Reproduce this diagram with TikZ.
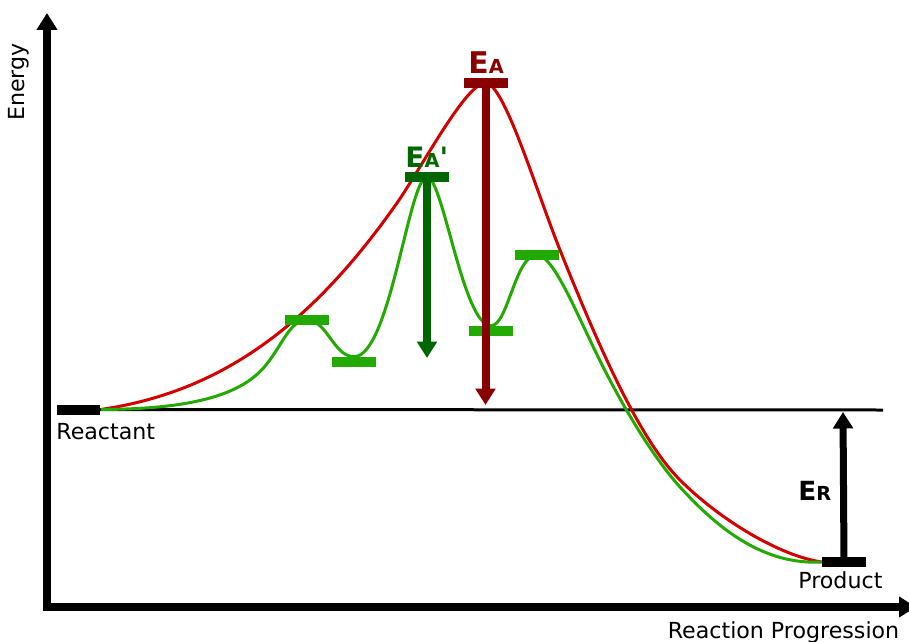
\documentclass[tikz,border=0pt]{standalone}
\usepackage{fontspec}
\setmainfont{DejaVu Sans}
\usetikzlibrary{arrows.meta,backgrounds}
\definecolor{curvered}  {HTML}{D40000}
\definecolor{darkred}   {HTML}{880000}
\definecolor{lightgreen}{HTML}{22AA00}
\definecolor{darkgreen} {HTML}{006600}

\begin{document}
\begin{tikzpicture}[x=0.02cm,y=-0.02cm,
  levelbar/.style={fill=#1,inner sep=0pt,minimum width=0.88cm,minimum height=0.2cm},
  levelbar/.default=black,
  axis/.style={line width=1.6mm,line join=miter,
               {Triangle[width=4mm,length=3.4mm]}-{Triangle[width=4mm,length=3.4mm]}},
  gap/.style={-{Triangle[width=3.9mm,length=3.3mm]},line width=#1},
  curve/.style={line width=0.6mm,draw=#1},
  lbl/.style={inner sep=0pt,font=\fontsize{12.6}{14}\selectfont},
  ename/.style={inner sep=0pt,font=\bfseries,text=#1}
]
\useasboundingbox (0,0) rectangle (909,642);

\node[levelbar] (react) at (78.5,409.5) {};
\node[levelbar] (prod)  at (844,562)   {};
\node[levelbar=lightgreen] (g1) at (307,320) {};
\node[levelbar=lightgreen] (g2) at (354,362) {};
\node[levelbar=lightgreen] (g3) at (491,331) {};
\node[levelbar=lightgreen] (g4) at (537,255) {};
\node[levelbar=darkgreen]  (eap) at (427,177) {};
\node[levelbar=darkred]    (ea)  at (485.5,83) {};

\coordinate (origin)  at (47,607);
\coordinate (ytop)    at (47,13);
\coordinate (xend)    at (916,607);
\coordinate (baseend) at (883,410);
\coordinate (eatip)   at (485.5,405);
\coordinate (eaptip)  at (427,358);
\coordinate (ertip)   at (843,412);

\begin{scope}[on background layer]
\draw[line width=0.6mm] (react.center) -- (baseend);
\draw[curve=curvered] (react.east)
  .. controls (220,392) and (310,327) .. (397,203)
  .. controls (422,167) and (466,83) .. (ea.center)
  .. controls (504,83) and (535,187.5) .. (560,250)
  .. controls (600,350) and (640,440) .. (680,480)
  .. controls (720,520) and (780,556) .. (prod.west);
\draw[curve=lightgreen] (react.east)
  .. controls (190,409) and (241,396) .. (266,365)
  .. controls (283,344) and (290,320) .. (g1.center)
  .. controls (327,320) and (334,357) .. (g2.north)
  .. controls (390,357) and (409,177) .. (eap.center)
  .. controls (443,177) and (463,326) .. (g3.north)
  .. controls (508,326) and (515,255) .. (g4.center)
  .. controls (552,255) and (573,305) .. (590,340)
  .. controls (618,400) and (652,456) .. (680,487)
  .. controls (720,531) and (765,565) .. (prod.west);
\end{scope}

\draw[axis] (ytop) -- (origin) -- (xend);
\draw[gap=1.6mm,darkred] (ea.center) -- (eatip);
\draw[gap=1.7mm,darkgreen] (eap.center) -- (eaptip);
\draw[gap=1.4mm] (prod.center) -- (ertip);

\node[lbl,rotate=90] (ylbl) at (19,82) {Energy};
\node[lbl,anchor=base] (xlbl) at (783.5,638) {Reaction Progression};
\node[lbl,anchor=base west] (reactlbl) at (56,439) {Reactant};
\node[lbl,anchor=base west] (prodlbl) at (798,588) {Product};
\node[ename=darkred,anchor=base west] (ealbl) at (468,73)
  {\fontsize{17}{17}\selectfont E\fontsize{11}{11}\selectfont A};
\node[ename=darkgreen,anchor=base west] (eaplbl) at (405,167)
  {\fontsize{16}{16}\selectfont E\fontsize{11}{11}\selectfont A\fontsize{16}{16}\selectfont\textquotesingle};
\node[ename=black,anchor=base west] (erlbl) at (798,500)
  {\fontsize{15}{15}\selectfont E\fontsize{11}{11}\selectfont R};
\end{tikzpicture}
\end{document}
